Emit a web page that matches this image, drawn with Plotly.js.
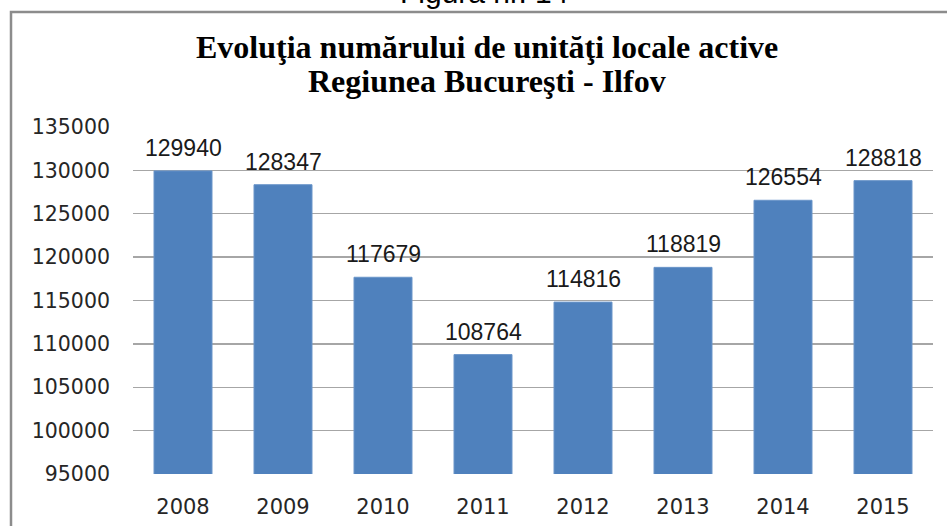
<!DOCTYPE html>
<html>
<head>
<meta charset="utf-8">
<script src="https://cdn.plot.ly/plotly-3.0.1.min.js"></script>
<style>html,body{margin:0;padding:0;background:#fff;}#chart{width:947px;height:526px;}</style>
</head>
<body>
<div id="chart"></div>
<script>
const years = ['2008', '2009', '2010', '2011', '2012', '2013', '2014', '2015'];
const units = [129940, 128347, 117679, 108764, 114816, 118819, 126554, 128818];
const yTicks = [95000, 100000, 105000, 110000, 115000, 120000, 125000, 130000, 135000];
const titleLines = ['Evoluţia numărului de unităţi locale active', 'Regiunea Bucureşti - Ilfov'];
const figureLabel = 'Figura nr. 14';

const W = 947, H = 526;
const M = {l: 133, r: 14, t: 127, b: 52};
const pw = W - M.l - M.r, ph = H - M.t - M.b;
const px = x => (x - M.l) / pw;
const py = y => (H - M.b - y) / ph;

const trace = {
  type: 'bar',
  x: years,
  y: units,
  marker: {color: '#4f81bd', line: {color: '#6a95c9', width: 1}},
  hoverinfo: 'x+y'
};

const valueLabels = years.map((yr, i) => ({
  x: i, y: units[i], xref: 'x', yref: 'y',
  text: String(units[i]), showarrow: false,
  yanchor: 'middle', yshift: 23,
  font: {family: 'Liberation Sans, Arial, sans-serif', size: 23, color: '#1a1a1a'}
}));

const titleFont = {family: 'Liberation Serif, Times New Roman, serif', size: 32, color: '#000000', weight: 'bold'};
const titleAnns = titleLines.map((t, i) => ({
  xref: 'paper', yref: 'paper', x: px(486.5), y: py(i === 0 ? 47 : 81),
  xanchor: 'center', yanchor: 'middle', showarrow: false,
  text: '<b>' + t + '</b>', font: titleFont
}));

const layout = {
  width: W, height: H,
  margin: M,
  paper_bgcolor: '#ffffff',
  plot_bgcolor: '#ffffff',
  showlegend: false,
  bargap: 0.42,
  xaxis: {
    type: 'category',
    range: [-0.5, years.length - 0.5],
    showgrid: false,
    showline: false,
    zeroline: false,
    ticks: '',
    ticklabelstandoff: 18,
    tickfont: {family: 'DejaVu Sans, Verdana, sans-serif', size: 21, color: '#262626'}
  },
  yaxis: {
    range: [95000, 135000],
    tickvals: yTicks,
    ticktext: yTicks.map(String),
    showgrid: true,
    gridcolor: '#a6a6a6',
    gridwidth: 1.3,
    zeroline: false,
    showline: false,
    ticks: '',
    ticklabelstandoff: 22,
    tickfont: {family: 'DejaVu Sans, Verdana, sans-serif', size: 20.5, color: '#262626'}
  },
  annotations: valueLabels.concat(titleAnns, [{
    xref: 'paper', yref: 'paper', x: px(484), y: py(-8),
    xanchor: 'center', yanchor: 'middle', showarrow: false,
    text: figureLabel,
    font: {family: 'Liberation Sans, Arial, sans-serif', size: 30, color: '#000000'}
  }]),
  shapes: [{
    type: 'rect', xref: 'paper', yref: 'paper',
    x0: px(11), x1: px(1000), y0: py(600), y1: py(12),
    line: {color: '#8c8c8c', width: 2.5},
    fillcolor: 'rgba(0,0,0,0)',
    layer: 'below'
  }]
};

Plotly.newPlot('chart', [trace], layout, {displayModeBar: false, staticPlot: true});
</script>
</body>
</html>
